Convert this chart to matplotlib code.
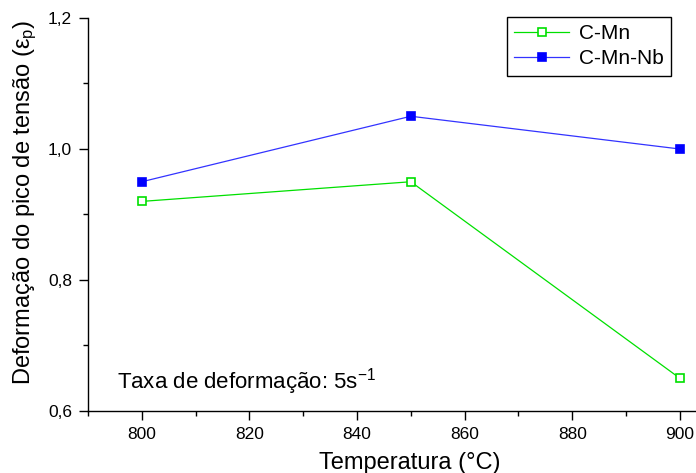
import matplotlib
matplotlib.use('Agg')
import matplotlib.pyplot as plt
from matplotlib.ticker import MultipleLocator

plt.rcParams['font.family'] = ['Liberation Sans', 'DejaVu Sans']
plt.rcParams['mathtext.fontset'] = 'custom'
plt.rcParams['mathtext.rm'] = 'Liberation Sans'
plt.rcParams['mathtext.it'] = 'Liberation Sans:italic'

# temperatures (°C) and peak strain values
temp = [800, 850, 900]
c_mn = [0.92, 0.95, 0.65]
c_mn_nb = [0.95, 1.05, 1.00]

fig = plt.figure(figsize=(6.96, 4.73), dpi=100)
ax = fig.add_axes([88/696, 62/473, 608/696, 393/473])

ax.plot(temp, c_mn, color='#00e000', lw=0.9, marker='s', ms=6,
        mfc='white', mec='#00e000', mew=1.2, label='C-Mn')
ax.plot(temp, c_mn_nb, color='#3333ff', lw=0.9, marker='s', ms=6,
        mfc='#0000ff', mec='#0000ff', mew=1.2, label='C-Mn-Nb')

ax.set_xlim(790, 903)
ax.set_ylim(0.6, 1.2)
ax.xaxis.set_major_locator(MultipleLocator(20))
ax.xaxis.set_minor_locator(MultipleLocator(10))
ax.yaxis.set_major_locator(MultipleLocator(0.2))
ax.yaxis.set_minor_locator(MultipleLocator(0.1))
ax.yaxis.set_major_formatter(plt.FuncFormatter(lambda v, p: ('%.1f' % v).replace('.', ',')))

for s in ['top', 'right']:
    ax.spines[s].set_visible(False)
for s in ['left', 'bottom']:
    ax.spines[s].set_linewidth(1.0)
ax.tick_params(which='major', direction='out', length=6.5, width=1.0, labelsize=12.5, pad=5)
ax.tick_params(which='minor', direction='out', length=3.5, width=1.0)

ax.set_xlabel('Temperatura (°C)', fontsize=17)
ax.xaxis.set_label_coords(0.53, -0.105)
ax.set_ylabel('Deformação do pico de tensão (ε$_\\mathrm{p}$)', fontsize=17)
ax.yaxis.set_label_coords(-0.08, 0.53)

ax.text(0.047, 0.075, 'Taxa de deformação: 5s$^{\\mathrm{-1}}$', transform=ax.transAxes,
        fontsize=16, va='center', ha='left')

leg = ax.legend(loc='upper right', bbox_to_anchor=(0.959, 1.003), borderaxespad=0,
                fontsize=15, handlelength=2.6, handletextpad=0.5, frameon=True,
                fancybox=False, edgecolor='black', framealpha=1, borderpad=0.35,
                labelspacing=0.3)
leg.get_frame().set_linewidth(1.0)

fig.savefig('out.png', dpi=100)
